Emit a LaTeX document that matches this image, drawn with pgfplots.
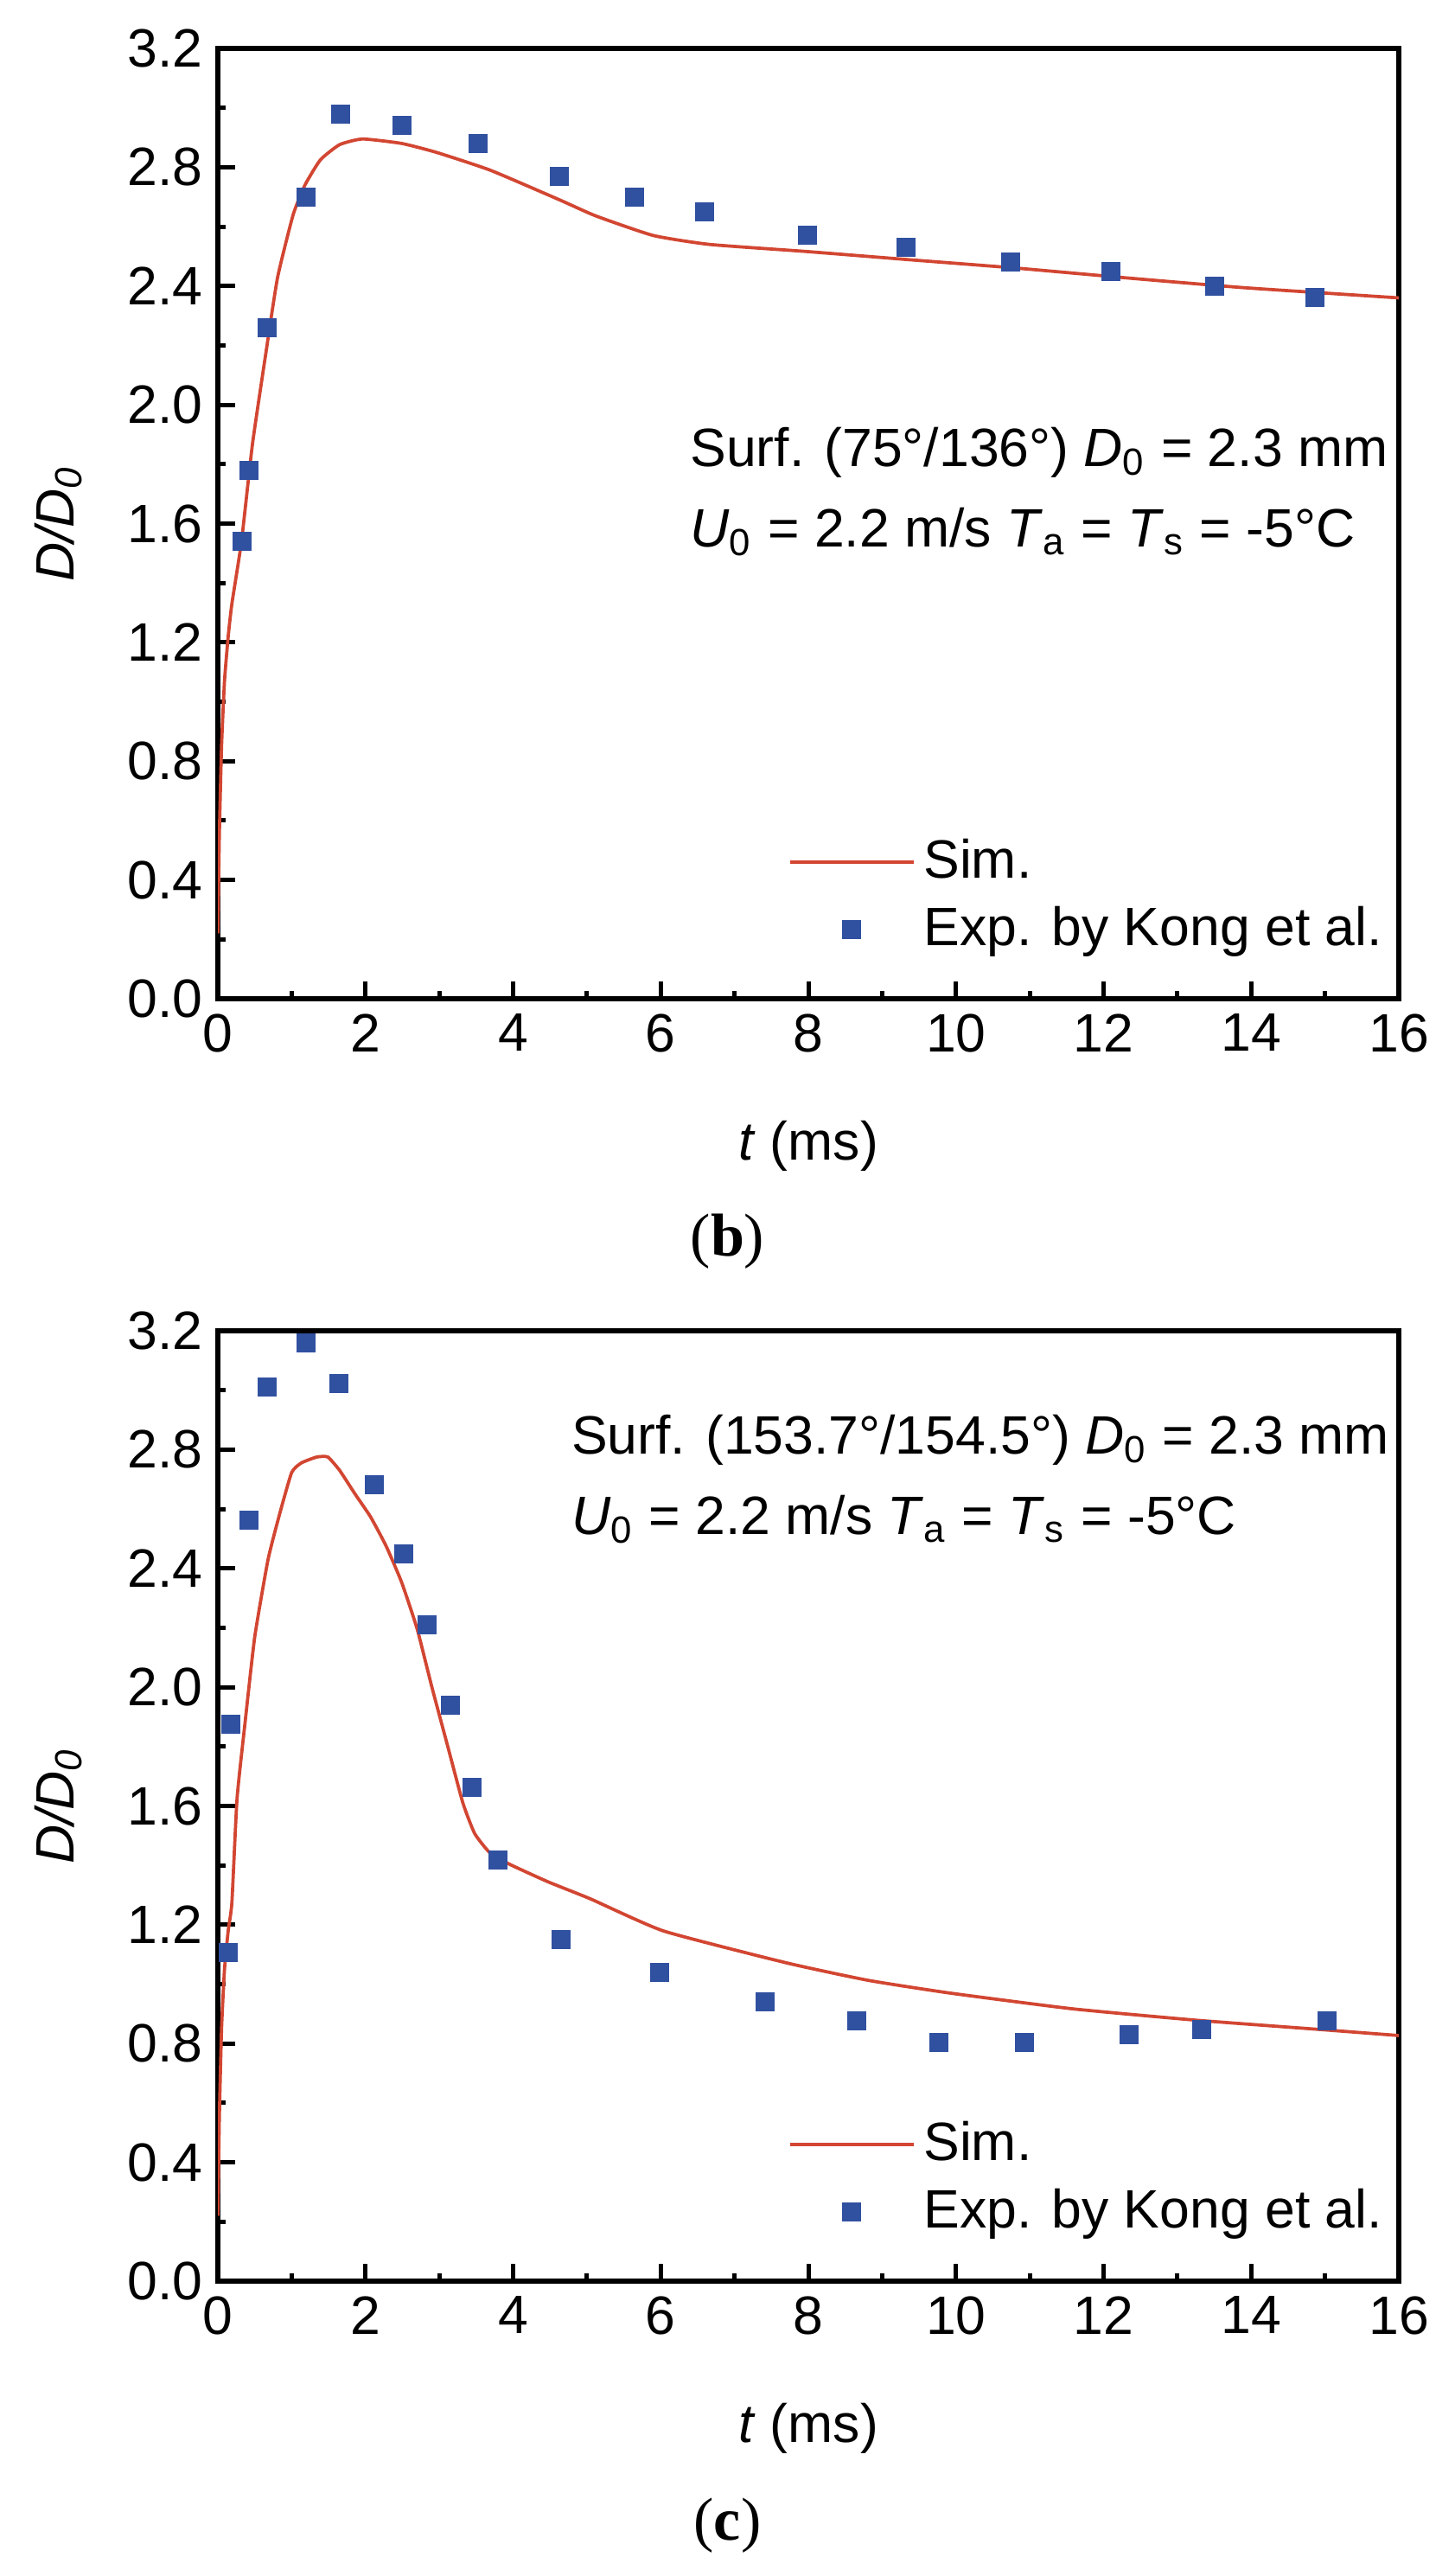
\documentclass[border=0pt]{standalone}
\usepackage{fontspec}
\setmainfont{Liberation Sans}
\newfontfamily\capfont{Liberation Serif}
\usepackage{pgfplots}
\pgfplotsset{compat=1.18}

\definecolor{simred}{RGB}{210,70,50}
\definecolor{expblue}{RGB}{48,80,160}

\pgfplotsset{
  dropstyle/.style={
    scale only axis,
    width=273.2pt, height=219.8pt,
    xmin=0, xmax=16, ymin=0, ymax=3.2,
    xtick={0,2,...,16}, ytick={0,0.4,...,3.2},
    minor x tick num=1, minor y tick num=1,
    tick pos=left, tick align=inside,
    major tick length=4pt, minor tick length=1.8pt,
    every tick/.style={black, line width=1pt},
    axis line style={line width=1.1pt},
    /pgf/number format/assume math mode=true,
    yticklabel style={/pgf/number format/.cd, fixed, fixed zerofill, precision=1},
    xlabel={\textit{t} (ms)},
    ylabel={\textit{D/D}\textsubscript{\textit{0}}},
    xlabel style={at={(axis description cs:0.5,-0.155)}, anchor=center},
    ylabel style={at={(axis description cs:-0.135,0.5)}, anchor=center},
    legend cell align=left,
    legend style={draw=none, fill=none, at={(axis description cs:1.005,0.03)},
      anchor=south east, row sep=1pt,
      /tikz/every even column/.append style={column sep=4.6pt}},
  },
  simline/.style={simred, line width=0.75pt, no marks,
    legend image code/.code={\draw[simred, line width=0.75pt] (0pt,0pt) -- (28.6pt,0pt);}},
  expmarks/.style={expblue, only marks, mark=square*, mark size=2pt,
    legend image code/.code={\path (0pt,0pt) (28.6pt,0pt);
      \draw[expblue, only marks, mark=square*, mark size=2pt] plot coordinates {(14.3pt,0pt)};}},
}

\begin{document}
\begin{tikzpicture}[font=\fontsize{12.5}{15}\selectfont]
\useasboundingbox (0,0) rectangle (336.6pt,-595.8pt);

% panel (b)
\begin{axis}[dropstyle, at={(50.4pt,-231pt)}, anchor=south west]
  \addplot[simline, smooth, tension=0.3] coordinates {
    (0,0.22)(0.02,0.55)(0.05,0.85)(0.09,1.07)(0.14,1.22)(0.19,1.33)
    (0.32,1.54)(0.47,1.87)(0.66,2.19)(0.81,2.43)(1.02,2.64)(1.18,2.74)
    (1.39,2.825)(1.65,2.876)(1.96,2.895)(2.49,2.88)(2.96,2.85)(3.69,2.79)
    (4.63,2.69)(5.12,2.636)(5.90,2.57)(6.66,2.54)(7.98,2.516)(9.29,2.49)
    (10.83,2.46)(12.37,2.426)(13.92,2.394)(16,2.36)
  };
  \addlegendentry{Sim.}
  \addplot[expmarks] coordinates {
    (0.33,1.54)(0.42,1.78)(0.67,2.26)(1.19,2.70)(1.66,2.98)(2.50,2.94)
    (3.53,2.88)(4.63,2.77)(5.64,2.70)(6.59,2.65)(7.99,2.57)(9.32,2.53)
    (10.74,2.48)(12.10,2.45)(13.50,2.40)(14.86,2.36)
  };
  \addlegendentry{Exp. by Kong et al.}
  \node[anchor=base west, inner sep=0pt] at (axis cs:6.39,1.791)
    {Surf. (75°/136°) \textit{D}\textsubscript{0} = 2.3 mm};
  \node[anchor=base west, inner sep=0pt] at (axis cs:6.39,1.520)
    {\textit{U}\textsubscript{0} = 2.2 m/s \textit{T}\textsubscript{a} = \textit{T}\textsubscript{s} = -5°C};
\end{axis}
\node[font=\fontsize{14}{16}\selectfont\capfont] at (168.3pt,-287.2pt) {(\textbf{b})};

% panel (c)
\begin{axis}[dropstyle, at={(50.4pt,-527.6pt)}, anchor=south west]
  \addplot[simline, smooth, tension=0.3] coordinates {
    (0,0.22)(0.02,0.55)(0.05,0.85)(0.09,1.05)(0.14,1.18)(0.19,1.275)
    (0.26,1.625)(0.37,1.884)(0.50,2.17)(0.68,2.43)(0.84,2.586)(1.0,2.723)
    (1.13,2.755)(1.34,2.775)(1.49,2.775)(1.65,2.73)(1.86,2.65)(2.07,2.573)
    (2.28,2.475)(2.49,2.353)(2.70,2.196)(2.90,2.0)(3.11,1.805)(3.32,1.61)
    (3.48,1.507)(3.69,1.441)(3.95,1.404)(4.47,1.345)(5.05,1.287)(6.04,1.179)
    (7.70,1.072)(8.81,1.013)(9.92,0.970)(11.58,0.917)(13.24,0.879)
    (14.90,0.848)(16,0.827)
  };
  \addlegendentry{Sim.}
  \addplot[expmarks] coordinates {
    (0.14,1.106)(0.17,1.874)(0.42,2.563)(0.667,3.011)(1.194,3.16)(1.634,3.023)
    (2.12,2.682)(2.52,2.449)(2.83,2.211)(3.15,1.939)(3.44,1.663)(3.79,1.418)
    (4.65,1.15)(5.98,1.04)(7.42,0.94)(8.65,0.876)(9.77,0.804)(10.93,0.804)
    (12.35,0.831)(13.33,0.848)(15.03,0.876)
  };
  \addlegendentry{Exp. by Kong et al.}
  \node[anchor=base west, inner sep=0pt] at (axis cs:4.78,2.784)
    {Surf. (153.7°/154.5°) \textit{D}\textsubscript{0} = 2.3 mm};
  \node[anchor=base west, inner sep=0pt] at (axis cs:4.78,2.513)
    {\textit{U}\textsubscript{0} = 2.2 m/s \textit{T}\textsubscript{a} = \textit{T}\textsubscript{s} = -5°C};
\end{axis}
\node[font=\fontsize{14}{16}\selectfont\capfont] at (168.3pt,-584.2pt) {(\textbf{c})};
\end{tikzpicture}
\end{document}
